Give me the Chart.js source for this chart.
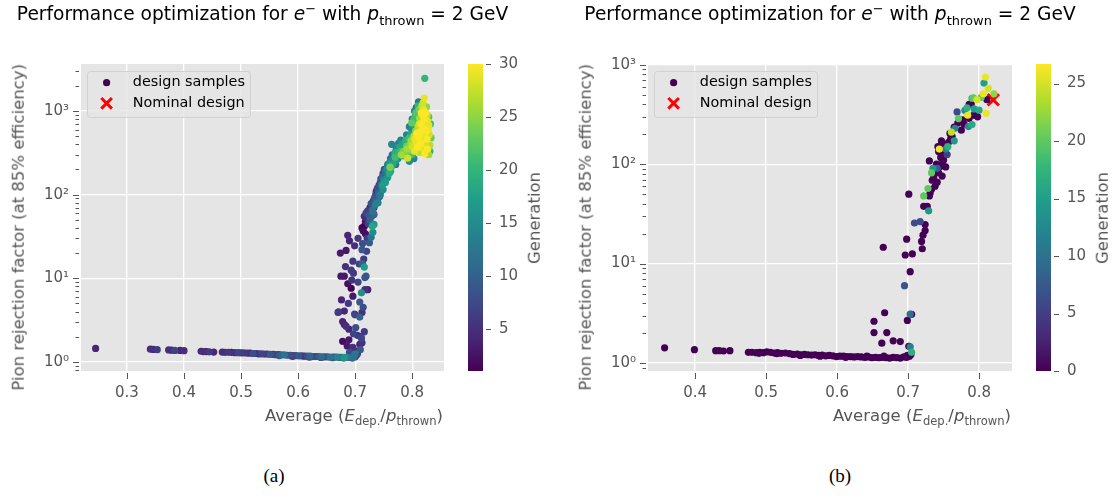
<!DOCTYPE html>
<html>
<head>
<meta charset="utf-8">
<script src="https://cdn.jsdelivr.net/npm/chart.js@4.4.1/dist/chart.umd.min.js"></script>
<style>
  body { margin: 0; background: #fff; }
  #fig { position: relative; width: 1115px; height: 497px; overflow: hidden; background: #fff; }
  canvas { position: absolute; top: 0; }
  .lbl { position: absolute; white-space: nowrap; line-height: 1; font-family: "DejaVu Sans", sans-serif; }
  .lbl sub, .lbl sup { font-size: 70%; line-height: 0; vertical-align: baseline; position: relative; }
  .lbl sub { top: 0.35em; }
  .lbl sup { top: -0.55em; }
  .cap { position: absolute; line-height: 1; font-family: "Liberation Serif", serif; font-size: 19px; color: #000; }
</style>
</head>
<body>
<div id="fig">
  <canvas id="chartA" width="560" height="440" style="left:0;width:560px;height:440px"></canvas>
  <canvas id="chartB" width="555" height="440" style="left:560px;width:555px;height:440px"></canvas>
</div>
<script>
// ---- panel (a) : all generations 1..30 ----
const aX = [
  // flat band
  0.245,0.341,0.346,0.353,0.373,0.378,0.384,0.393,
  0.400,0.430,0.434,0.439,0.444,0.452,0.467,0.472,
  0.478,0.483,0.489,0.495,0.500,0.505,0.511,0.516,
  0.521,0.526,0.531,0.536,0.541,0.546,0.551,0.556,
  0.561,0.566,0.571,0.576,0.581,0.586,0.591,0.596,
  0.601,0.606,0.611,0.616,0.621,0.626,0.631,0.636,
  0.641,0.646,0.651,0.656,0.661,0.665,0.669,0.673,
  0.677,0.681,0.685,0.689,0.693,0.697,0.700,0.702,
  0.704,0.567,0.590,0.620,0.640,0.660,0.680,0.695,
  // steep part
  0.687,0.684,0.699,0.713,0.720,0.696,0.713,0.681,
  0.693,0.716,0.717,0.687,0.693,0.711,0.717,0.696,
  0.708,0.670,0.681,0.699,0.708,0.678,0.684,0.689,
  0.701,0.704,0.678,0.689,0.696,0.708,0.711,0.683,
  0.675,0.697,0.707,0.719,0.722,0.671,0.700,0.681,
  0.697,0.710,0.712,0.703,0.690,0.700,0.709,0.715,
  0.674,0.690,0.705,0.712,0.694,0.705,0.676,0.688,
  0.714,0.686,0.716,0.712,
  // rising branch
  0.712,0.714,0.718,0.716,0.721,0.725,0.728,0.731,
  0.733,0.716,0.719,0.722,0.724,0.726,0.728,0.730,
  0.732,0.734,0.736,0.737,0.739,0.741,0.742,0.744,
  0.746,0.745,0.748,0.750,0.752,0.754,0.756,0.751,
  0.758,0.760,0.761,0.762,0.764,0.766,0.767,0.769,
  0.764,0.770,0.772,0.774,0.776,0.778,0.780,0.782,
  0.784,0.786,0.792,0.788,0.790,0.795,0.800,0.803,
  0.794,0.797,0.799,0.802,0.805,0.808,0.811,0.815,
  0.806,0.810,0.735,0.743,0.749,0.753,0.757,0.760,
  0.739,0.727,0.733,0.745,0.771,0.775,0.779,0.783,
  0.718,0.720,0.723,0.726,0.729,0.731,0.733,0.736,
  0.738,0.740,0.742,0.744,0.747,0.749,0.752,0.755,
  0.757,0.759,0.762,0.765,0.768,0.772,0.776,0.780,
  0.785,0.790,0.795,0.800,0.804,0.807,0.748,0.763,
  0.770,0.730,
  // top cluster
  0.822,0.821,0.817,0.820,0.823,0.826,0.818,0.813,
  0.821,0.827,0.816,0.824,0.810,0.819,0.828,0.806,
  0.814,0.822,0.830,0.803,0.811,0.817,0.826,0.798,
  0.807,0.815,0.823,0.831,0.800,0.809,0.818,0.827,
  0.795,0.804,0.813,0.822,0.829,0.812,0.808,0.816,
  0.825,0.829,0.805,0.797,0.791,0.787,0.799,0.803,
  0.806,0.813,0.810,0.825,0.829,0.832,0.833,0.831,
  0.826,0.818,0.808,0.796,0.785,0.781,0.819,0.816
]
const aY = [
  1.45,1.42,1.41,1.40,1.39,1.38,1.37,1.37,
  1.36,1.34,1.33,1.33,1.32,1.31,1.31,1.30,
  1.30,1.30,1.29,1.29,1.28,1.28,1.27,1.27,
  1.26,1.26,1.25,1.25,1.24,1.24,1.23,1.23,
  1.22,1.22,1.21,1.21,1.20,1.20,1.19,1.19,
  1.18,1.18,1.17,1.17,1.17,1.16,1.16,1.16,
  1.15,1.15,1.15,1.14,1.14,1.14,1.14,1.13,
  1.13,1.13,1.13,1.13,1.13,1.14,1.15,1.20,
  1.25,1.19,1.16,1.14,1.13,1.12,1.11,1.11,

  32.6,21.5,24.4,26,21,16,14.9,10.6,
  12.5,13.6,10.2,8.6,7.6,6.7,7.3,6.1,
  5.2,3.9,4.05,3.74,3.43,3.03,2.67,2.46,
  2.57,2.08,1.76,1.84,1.49,1.62,1.92,13.8,
  10.6,11.5,14.8,10.6,7.3,3.96,3.65,2.79,
  2.17,2.0,1.69,1.34,1.30,1.25,1.40,17,
  20,28,30,22,9.5,9,5.5,5,
  4.5,1.55,2.3,3.9,

  40,37,34,42,30,26.6,31,35.5,
  44,55,60,64,57,70,78,66,
  85,92,100,110,120,105,130,140,
  125,155,165,150,175,190,200,200,
  220,240,213,190,260,230,280,300,
  400,320,260,345,300,370,330,400,
  290,360,273,440,380,250,300,270,
  470,520,600,680,750,820,1290,1200,
  900,1000,75,95,115,140,160,180,
  88,45,58,110,230,270,310,350,
  48,52,45,50,55,62,70,82,
  95,80,115,100,135,180,160,175,
  230,195,270,300,240,350,410,450,
  420,520,650,800,1000,1100,130,210,
  280,42,

  2462,1430,1150,1050,960,900,880,820,
  800,760,700,680,650,620,600,580,
  560,540,520,500,490,470,460,440,
  430,410,400,390,380,370,360,350,
  340,330,320,310,300,700,540,520,
  580,680,460,400,350,320,720,800,
  950,1050,1150,1120,850,700,480,330,
  310,330,350,300,330,300,1250,950
]
const aGen = [
  4,5,4,6,5,4,7,4,
  5,4,5,3,6,4,5,4,
  6,3,5,7,4,6,5,3,
  8,5,4,7,6,5,9,4,
  7,5,10,12,6,8,5,7,
  9,6,4,8,10,7,5,9,
  11,6,8,12,7,10,14,9,
  11,16,13,8,10,12,6,7,
  5,9,6,5,7,9,13,11,

  4,3,5,8,7,6,10,3,
  6,17,8,2,1,15,5,3,
  9,5,4,7,10,4,5,4,
  8,6,2,3,5,4,7,5,
  3,6,7,9,4,6,5,3,
  7,6,5,4,8,12,9,6,
  3,4,6,9,5,7,4,6,
  8,3,6,5,

  1,2,2,1,6,9,12,15,
  16,5,7,6,9,4,8,11,
  6,9,7,5,8,10,6,9,
  12,8,11,14,10,13,15,9,
  12,16,24,17,14,18,13,16,
  14,19,17,15,20,18,21,17,
  22,16,28,19,23,15,20,14,
  21,18,15,17,12,16,13,11,
  19,22,13,12,15,17,16,19,
  3,5,10,7,11,14,13,15,
  3,4,7,10,8,12,5,11,
  9,14,4,13,10,6,8,11,
  13,14,10,12,15,12,14,13,
  15,14,13,12,14,10,17,20,
  21,18,

  20,29,27,29,30,28,29,26,
  30,29,30,28,27,30,29,25,
  30,29,28,27,30,29,30,26,
  29,30,28,27,28,30,29,30,
  24,29,27,30,26,28,30,27,
  30,29,29,25,26,23,23,21,
  22,24,20,25,22,21,23,20,
  18,22,21,22,24,26,28,30
]
const aNominal = { x: 0.821, y: 450 }

// ---- panel (b) : mostly generation 0 ----
const bX = [
  // flat band
  0.357,0.399,0.429,0.434,0.440,0.449,0.475,0.480,
  0.486,0.491,0.496,0.501,0.506,0.511,0.516,0.521,
  0.527,0.533,0.538,0.544,0.549,0.554,0.559,0.564,
  0.569,0.574,0.579,0.584,0.589,0.594,0.599,0.604,
  0.609,0.614,0.619,0.624,0.629,0.634,0.639,0.644,
  0.649,0.654,0.659,0.664,0.669,0.674,0.679,0.684,
  0.689,0.694,0.698,0.702,0.704,0.699,0.666,0.642,
  0.612,0.576,0.548,0.515,0.490,0.705,0.703,0.701,
  // low outliers
  0.652,0.667,0.652,0.670,0.663,0.679,0.689,0.699,0.703,0.705,
  // rising branch
  0.665,0.698,0.696,0.706,0.703,0.695,0.701,0.709,
  0.717,0.724,0.724,0.721,0.719,0.720,0.722,0.729,
  0.727,0.722,0.731,0.733,0.730,0.741,0.736,0.748,
  0.733,0.743,0.735,0.741,0.753,0.748,0.730,0.746,
  0.755,0.749,0.743,0.744,0.753,0.757,0.747,0.765,
  0.762,0.759,0.765,0.785,0.779,0.777,0.771,0.792,
  0.784,0.780,0.793,0.769,0.786,0.797,0.811,0.790,
  0.821,0.806,0.813,0.807,0.809,0.810,0.789,0.790,
  0.795,0.792,
  0.738,0.745,0.740,0.750,0.752,0.742,0.747,0.760,
  0.756,0.738,0.728,0.734,0.775,0.770,0.800,0.798,
  0.783,0.803,0.786,0.761,0.766
]
const bY = [
  1.42,1.36,1.33,1.33,1.32,1.33,1.28,1.28,
  1.27,1.28,1.27,1.29,1.28,1.26,1.27,1.25,
  1.26,1.24,1.22,1.23,1.21,1.22,1.21,1.20,
  1.21,1.19,1.20,1.18,1.19,1.18,1.16,1.17,
  1.17,1.16,1.16,1.15,1.16,1.15,1.14,1.15,
  1.13,1.14,1.13,1.14,1.13,1.12,1.14,1.13,
  1.12,1.15,1.14,1.17,1.22,1.19,1.17,1.17,
  1.14,1.17,1.19,1.24,1.25,1.28,1.45,1.47,

  2.63,3.2,2.02,2.02,1.58,1.67,1.64,2.68,3.1,3.09,

  14.6,17.6,12.2,12.5,8.3,6.0,50,25.6,
  26.5,24.7,21.5,19.3,16.7,14.1,37.7,34,
  37.7,48,51,56,48,66,74,76,
  82,82,91,91,94,101,108,117,
  125,139,134,142,142,166,172,172,
  191,204,236,239,253,280,288,311,
  311,348,360,336,400,446,446,460,
  512,512,581,655,755,325,406,251,
  311,465,
  85,95,100,110,130,150,160,180,
  150,60,57,69,220,260,350,300,
  370,470,290,210,230
]
const bGen = [
  0,0,0,0,0,0,0,0,
  0,0,0,0,0,0,0,0,
  0,0,0,0,0,0,0,0,
  0,0,0,0,0,0,0,0,
  0,0,0,0,0,0,0,0,
  0,0,0,0,0,0,0,0,
  0,0,0,0,0,0,0,0,
  0,0,0,0,0,17,12,0,

  0,0,0,0,0,0,0,0,10,0,

  0,0,0,0,0,7,0,6,
  6,0,0,0,0,0,0,14,
  0,20,0,0,0,0,0,0,
  20,0,14,8,0,0,0,0,
  5,0,0,26,12,0,0,14,
  0,0,0,13,0,0,20,0,
  26,14,15,6,0,25,0,18,
  22,26,25,15,26,26,0,16,
  0,20,
  0,0,0,0,0,0,0,0,
  17,0,20,0,0,0,16,0,
  17,20,0,24,12
]
const bNominal = { x: 0.82, y: 445 }

// ---- ticks ----
const xTicksA = [0.3, 0.4, 0.5, 0.6, 0.7, 0.8]
const xTicksB = [0.4, 0.5, 0.6, 0.7, 0.8]
const yMajor = [1, 10, 100, 1000]
const cbTicksA = [5, 10, 15, 20, 25, 30]
const cbTicksB = [0, 5, 10, 15, 20, 25]

const VIRIDIS = ['#440154','#482878','#3e4989','#31688e','#26828e','#1f9e89','#35b779','#6ece58','#b5de2b','#fde725']
const SUP = { '0': '\u2070', '1': '\u00b9', '2': '\u00b2', '3': '\u00b3' }
const TICK_FONT = { family: 'DejaVu Sans', size: 15 }

function hexRgb (h) {
  return [1, 3, 5].map(i => parseInt(h.slice(i, i + 2), 16))
}

function viridis (t) {
  t = Math.max(0, Math.min(1, t))
  const s = t * (VIRIDIS.length - 1)
  const i = Math.min(Math.floor(s), VIRIDIS.length - 2)
  const f = s - i
  const a = hexRgb(VIRIDIS[i])
  const b = hexRgb(VIRIDIS[i + 1])
  return 'rgb(' + a.map((v, k) => Math.round(v + (b[k] - v) * f)).join(',') + ')'
}

function line (ctx, x1, y1, x2, y2) {
  ctx.beginPath()
  ctx.moveTo(x1, y1)
  ctx.lineTo(x2, y2)
  ctx.stroke()
}

function decorPlugin (p) {
  return {
    id: 'decor',
    beforeDraw (chart) {
      const { ctx, chartArea: a } = chart
      ctx.save()
      ctx.fillStyle = '#e5e5e5'
      ctx.fillRect(a.left, a.top, a.width, a.height)
      ctx.restore()
    },
    afterDraw (chart) {
      const { ctx, chartArea: a, scales } = chart
      ctx.save()
      ctx.strokeStyle = '#555'
      ctx.lineWidth = 1
      // x tick marks
      p.xTicks.forEach(v => {
        const px = Math.round(scales.x.getPixelForValue(v)) + 0.5
        line(ctx, px, a.bottom + 2, px, a.bottom + 8)
      })
      // y tick marks, major and minor
      for (let e = -1; e <= 4; e++) {
        for (let m = 1; m <= 9; m++) {
          const v = m * Math.pow(10, e)
          if (v < p.yMin || v > p.yMax) continue
          const py = Math.round(scales.y.getPixelForValue(v)) + 0.5
          const len = m === 1 ? 6 : 3.5
          line(ctx, a.left - 2 - len, py, a.left - 2, py)
        }
      }
      // colorbar
      const cb = scales.cb
      const x0 = a.right + 24
      const w = 15
      const yb = cb.getPixelForValue(cb.min)
      const yt = cb.getPixelForValue(cb.max)
      const g = ctx.createLinearGradient(0, yb, 0, yt)
      VIRIDIS.forEach((c, i) => g.addColorStop(i / (VIRIDIS.length - 1), c))
      ctx.fillStyle = g
      ctx.fillRect(x0, yt, w, yb - yt)
      p.cbTicks.forEach(v => {
        const py = Math.round(cb.getPixelForValue(v)) + 0.5
        line(ctx, x0 + w + 3, py, x0 + w + 8, py)
      })
      // legend
      const lx = a.left + 6
      const ly = a.top + 7
      ctx.beginPath()
      ctx.roundRect(lx + 0.5, ly + 0.5, 163, 46, 3)
      ctx.fillStyle = 'rgba(229,229,229,0.8)'
      ctx.fill()
      ctx.strokeStyle = 'rgba(204,204,204,0.8)'
      ctx.stroke()
      const mx = a.left + 25.6
      const r1 = a.top + 18.7
      const r2 = a.top + 39.3
      ctx.fillStyle = viridis(0)
      ctx.beginPath()
      ctx.arc(mx, r1, 3.6, 0, Math.PI * 2)
      ctx.fill()
      ctx.strokeStyle = '#ff0000'
      ctx.lineWidth = 3
      const d = 5.3
      line(ctx, mx - d, r2 - d, mx + d, r2 + d)
      line(ctx, mx - d, r2 + d, mx + d, r2 - d)
      ctx.fillStyle = '#000'
      ctx.font = '14.4px "DejaVu Sans"'
      ctx.textBaseline = 'middle'
      ctx.fillText(chart.data.datasets[0].label, a.left + 51.8, r1)
      ctx.fillText(chart.data.datasets[1].label, a.left + 51.8, r2)
      ctx.restore()
    }
  }
}

function makeChart (id, p) {
  const order = p.x.map((_, i) => i).sort((i, j) => p.gen[i] - p.gen[j] || i - j)
  const pts = order.map(i => ({ x: p.x[i], y: p.y[i] }))
  const cols = order.map(i => viridis((p.gen[i] - p.cbMin) / (p.cbMax - p.cbMin)))

  return new Chart(document.getElementById(id), {
    type: 'scatter',
    data: {
      datasets: [{
        label: 'design samples',
        data: pts,
        backgroundColor: cols,
        borderWidth: 0,
        pointRadius: 3.6,
        pointHoverRadius: 3.6
      }, {
        label: 'Nominal design',
        data: [p.nominal],
        pointStyle: 'crossRot',
        pointRadius: 8,
        pointHoverRadius: 8,
        borderColor: '#ff0000',
        backgroundColor: '#ff0000',
        borderWidth: 3
      }]
    },
    options: {
      responsive: false,
      animation: false,
      devicePixelRatio: 1,
      layout: { padding: { top: p.top, bottom: 440 - 371 - 40, left: 0, right: 0 } },
      plugins: { legend: { display: false }, tooltip: { enabled: false } },
      scales: {
        x: {
          type: 'linear',
          min: p.xMin,
          max: p.xMax,
          afterBuildTicks: s => { s.ticks = p.xTicks.map(v => ({ value: v })) },
          afterFit: s => { s.height = 40 },
          grid: { color: '#ffffff', lineWidth: 1.3, tickLength: 8, tickColor: 'rgba(0,0,0,0)' },
          border: { display: false },
          ticks: { color: '#555', font: TICK_FONT, padding: 5, autoSkip: false, maxRotation: 0, callback: v => v.toFixed(1) }
        },
        y: {
          type: 'logarithmic',
          min: p.yMin,
          max: p.yMax,
          afterBuildTicks: s => { s.ticks = yMajor.filter(v => v >= p.yMin && v <= p.yMax).map(v => ({ value: v, major: true })) },
          afterFit: s => { s.width = p.yWidth },
          grid: { color: '#ffffff', lineWidth: 1.3, tickLength: 8, tickColor: 'rgba(0,0,0,0)' },
          border: { display: false },
          ticks: { color: '#555', font: TICK_FONT, padding: 4, autoSkip: false, callback: v => '10' + SUP[String(Math.round(Math.log10(v)))] }
        },
        cb: {
          type: 'linear',
          position: 'right',
          min: p.cbMin,
          max: p.cbMax,
          afterBuildTicks: s => { s.ticks = p.cbTicks.map(v => ({ value: v })) },
          afterFit: s => { s.width = p.cbWidth },
          grid: { display: false, drawTicks: false },
          border: { display: false },
          ticks: { color: '#555', font: TICK_FONT, padding: 55, autoSkip: false, callback: v => String(v) }
        }
      }
    },
    plugins: [decorPlugin(p)]
  })
}

const chartA = makeChart('chartA', {
  x: aX, y: aY, gen: aGen, nominal: aNominal,
  xMin: 0.2194, xMax: 0.8557, yMin: 0.778, yMax: 3650,
  cbMin: 1, cbMax: 30, xTicks: xTicksA, cbTicks: cbTicksA,
  top: 34, yWidth: 81, cbWidth: 116
})
const chartB = makeChart('chartB', {
  x: bX, y: bY, gen: bGen, nominal: bNominal,
  xMin: 0.3336, xMax: 0.8464, yMin: 0.83, yMax: 1020,
  cbMin: 0, cbMax: 26.7, xTicks: xTicksB, cbTicks: cbTicksB,
  top: 35, yWidth: 88, cbWidth: 103
})

// ---- text around the axes ----
const fig = document.getElementById('fig')
function addLabel (html, css, cls) {
  const d = document.createElement('div')
  d.className = cls || 'lbl'
  d.innerHTML = html
  Object.assign(d.style, css)
  fig.appendChild(d)
}

const TITLE = 'Performance optimization for <i>e</i><sup>\u2212</sup> with <i>p</i><sub>thrown</sub> = 2 GeV'
const XLABEL = 'Average (<i>E</i><sub>dep.</sub>/<i>p</i><sub>thrown</sub>)'
const YLABEL = 'Pion rejection factor (at 85% efficiency)'

;[[chartA, 0, '(a)', 274], [chartB, 560, '(b)', 840]].forEach(([chart, ox, cap, capX]) => {
  const a = chart.chartArea
  addLabel(TITLE, { left: (ox + (a.left + a.right) / 2) + 'px', top: '5px', fontSize: '18.6px', color: '#000', transform: 'translateX(-50%)' })
  addLabel(XLABEL, { left: (ox + a.right - 1) + 'px', top: '408px', fontSize: '16.5px', color: '#555', transform: 'translateX(-100%)' })
  addLabel(YLABEL, { left: (ox + a.left - 62) + 'px', top: a.top + 'px', fontSize: '16.5px', color: '#555', transformOrigin: '0 0', transform: 'rotate(-90deg) translate(-100%, -50%)' })
  addLabel('Generation', { left: (ox + a.right + 91) + 'px', top: ((a.top + a.bottom) / 2) + 'px', fontSize: '16.5px', color: '#555', transformOrigin: '0 0', transform: 'rotate(-90deg) translate(-50%, -50%)' })
  addLabel(cap, { left: capX + 'px', top: '466px', transform: 'translateX(-50%)' }, 'cap')
})
</script>
</body>
</html>
